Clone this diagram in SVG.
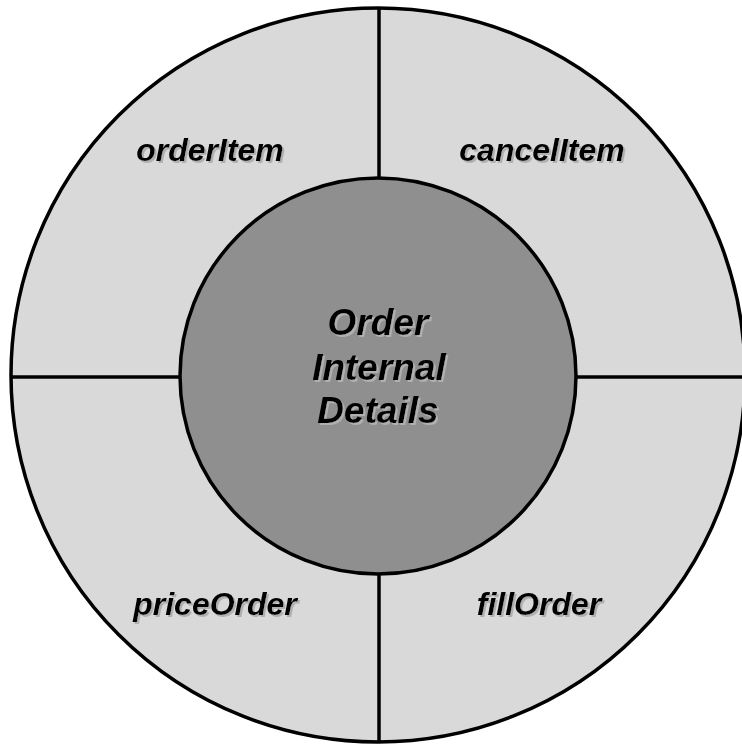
<svg xmlns="http://www.w3.org/2000/svg" width="742" height="745" viewBox="0 0 742 745">
<defs>
<filter id="sh" x="-10%" y="-20%" width="130%" height="150%">
<feDropShadow dx="2" dy="2" stdDeviation="0.6" flood-color="#b0b0b0" flood-opacity="1"/>
</filter>
<style>
.ring{fill:#d9d9d9;stroke:#000;stroke-width:3.5}
.core{fill:#8f8f8f;stroke:#000;stroke-width:3.5}
.div{stroke:#000;stroke-width:3.5;fill:none}
.lbl{font-family:"Liberation Sans",Arial,sans-serif;font-weight:bold;font-style:italic;font-size:32px;fill:#000;text-anchor:middle;filter:url(#sh)}
.big{font-size:37px}
</style>
</defs>
<g id="ring"><circle class="ring" cx="378" cy="375" r="367"/></g>
<g id="connectors">
<line class="div" x1="379" y1="8" x2="379" y2="178"/>
<line class="div" x1="379" y1="574" x2="379" y2="743"/>
<line class="div" x1="11" y1="377" x2="180" y2="377"/>
<line class="div" x1="576" y1="377" x2="745" y2="377"/>
</g>
<g id="orderItem"><text class="lbl" x="210" y="161">orderItem</text></g>
<g id="cancelItem"><text class="lbl" x="542" y="161">cancelItem</text></g>
<g id="priceOrder"><text class="lbl" x="215" y="615">priceOrder</text></g>
<g id="fillOrder"><text class="lbl" x="539" y="615">fillOrder</text></g>
<g id="core">
<circle class="core" cx="378" cy="376" r="198"/>
<text class="lbl big" x="378" y="335">Order</text>
<text class="lbl big" x="379" y="380">Internal</text>
<text class="lbl big" x="378" y="423">Details</text>
</g>
</svg>
